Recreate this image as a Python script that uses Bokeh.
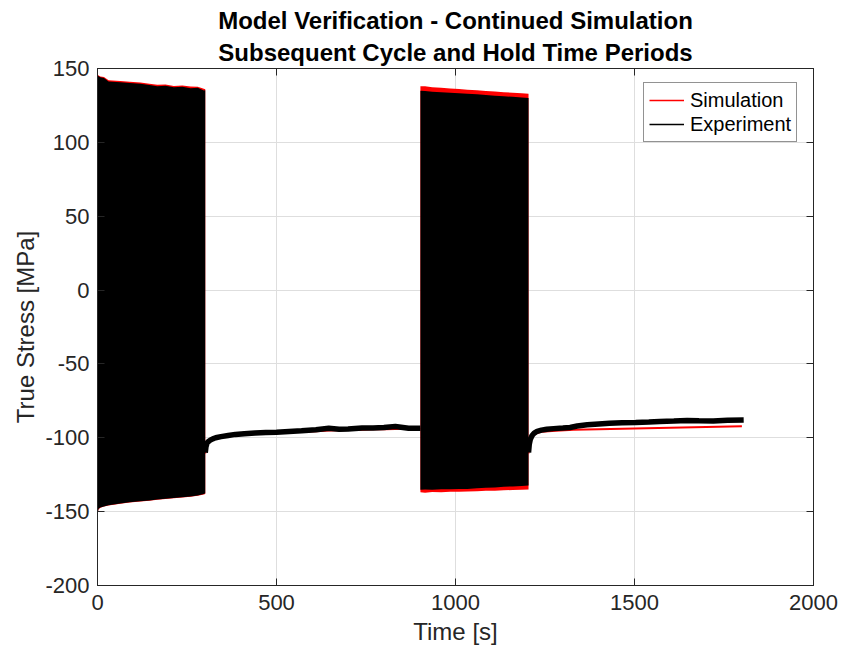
import numpy as np
from bokeh.plotting import figure
from bokeh.models import (Range1d, FixedTicker, LinearAxis, Legend, LegendItem,
                          Title, CustomJSTickFormatter, ColumnDataSource)
from bokeh.embed import file_html
from bokeh.resources import INLINE

# ---------------- data ----------------
x_ticks = [0, 500, 1000, 1500, 2000]
y_ticks = [-200, -150, -100, -50, 0, 50, 100, 150]

# Cycling block 1 envelopes (0-300 s)
blk1_t = [0, 3, 8, 18, 31, 64, 90, 120, 145, 167, 190, 213, 237, 260, 280, 297, 301]
blk1_exp_hi = [145.5, 144.8, 144.0, 143.5, 141.2, 140.7, 140.2, 139.6, 138.9, 138.0,
               138.3, 137.3, 137.6, 136.7, 136.9, 135.1, 135.3]
blk1_exp_lo = [-151.5, -148.1, -147.2, -146.5, -145.6, -144.5, -143.6, -143.0, -142.4,
               -141.8, -141.3, -140.7, -140.3, -139.8, -139.1, -138.0, -137.5]
blk1_sim_hi = [146.0, 145.3, 144.6, 144.2, 142.0, 141.5, 141.0, 140.5, 139.7, 139.0,
               139.2, 138.2, 138.5, 137.8, 137.7, 136.3, 136.0]
blk1_sim_lo = [-151.6, -148.3, -147.4, -146.6, -145.8, -144.7, -143.8, -143.2, -142.6,
               -142.0, -141.5, -140.9, -140.5, -140.0, -139.3, -138.4, -138.0]

# Cycling block 2 envelopes (900-1200 s)
blk2_t = [902, 915, 935, 960, 985, 1010, 1033, 1060, 1085, 1110, 1135, 1160, 1185, 1204]
blk2_exp_hi = [135.0, 134.7, 134.3, 134.0, 133.6, 133.3, 132.9, 132.5, 132.0, 131.6,
               131.2, 130.8, 130.4, 130.1]
blk2_exp_lo = [-135.2, -135.0, -135.1, -134.9, -134.8, -134.7, -134.6, -134.2, -133.9,
               -133.6, -133.2, -132.9, -132.6, -132.3]
blk2_sim_hi = [137.9, 138.0, 137.3, 137.0, 136.4, 136.1, 135.6, 135.2, 134.8, 134.4,
               133.9, 133.6, 133.2, 132.9]
blk2_sim_lo = [-136.8, -137.2, -136.7, -136.9, -136.5, -136.6, -136.3, -136.2, -135.9,
               -135.8, -135.5, -135.4, -135.2, -135.0]

# Hold period 1 (300-900 s)
h1_t = [301, 303, 306, 310, 315, 322, 330, 345, 365, 385, 410, 440, 470, 500, 535, 570,
        610, 646, 675, 700, 739, 770, 800, 832, 869, 902]
h1_exp = [-110, -106, -103.5, -102.5, -101.6, -100.7, -100, -99.2, -98.4, -97.7, -97.2,
          -96.8, -96.5, -96.2, -95.7, -95.2, -94.5, -93.6, -94.2, -94.0, -93.3, -93.4,
          -93.0, -92.4, -93.5, -93.5]
h1_sim = [-110.5, -106.5, -104.1, -103.0, -102.1, -101.2, -100.5, -99.7, -98.9, -98.2,
          -97.7, -97.3, -97.0, -96.7, -96.3, -95.9, -95.5, -95.1, -94.9, -94.7, -94.5,
          -94.3, -94.2, -94.0, -93.9, -93.8]

# Hold period 2 (1200-1800 s)
h2_t = [1204, 1206, 1209, 1214, 1220, 1228, 1240, 1255, 1274, 1300, 1320, 1340, 1368,
        1400, 1430, 1465, 1503, 1540, 1570, 1610, 1647, 1680, 1720, 1760, 1805]
h2_exp = [-110, -104.5, -101, -98.5, -96.8, -95.6, -94.8, -94.2, -93.8, -93.4, -93.0,
          -92.0, -91.2, -90.6, -90.2, -89.9, -89.6, -89.3, -89.0, -88.7, -88.3, -88.5,
          -88.6, -88.1, -87.9]
h2_sim_t = [1204, 1206, 1209, 1214, 1220, 1228, 1240, 1260, 1280, 1305, 1330, 1400, 1500,
            1600, 1700, 1800]
h2_sim = [-110.5, -105.5, -102, -99.5, -97.8, -96.8, -96.0, -95.5, -95.2, -94.9, -94.6,
          -94.2, -93.7, -93.2, -92.7, -92.2]

# ---------------- styling ----------------
FONT = "Liberation Sans"
AX = "#262626"
GRID = "#dedede"
RED = "#ff0000"
BLACK = "#000000"

p = figure(width=841, height=654, output_backend="svg", toolbar_location=None,
           x_range=Range1d(0, 2000), y_range=Range1d(-200, 150),
           min_border_left=97, min_border_right=28, min_border_top=68,
           min_border_bottom=69, background_fill_color="white",
           border_fill_color="white")
p.outline_line_color = AX
p.outline_line_width = 1

bottom_ax = p.below[0]
left_ax = p.left[0]

plain = CustomJSTickFormatter(code="return String(tick)")
blank = CustomJSTickFormatter(code="return ''")

for ax in (bottom_ax, left_ax):
    ax.axis_line_color = AX
    ax.major_tick_line_color = AX
    ax.major_tick_in = 7
    ax.major_tick_out = 0
    ax.minor_tick_line_color = None
    ax.major_label_text_font = FONT
    ax.major_label_text_font_size = "22px"
    ax.major_label_text_color = AX
    ax.axis_label_text_font = FONT
    ax.axis_label_text_font_size = "24px"
    ax.axis_label_text_font_style = "normal"
    ax.axis_label_text_color = AX
    ax.formatter = plain

bottom_ax.ticker = FixedTicker(ticks=x_ticks)
left_ax.ticker = FixedTicker(ticks=y_ticks)
bottom_ax.axis_label = "Time [s]"
left_ax.axis_label = "True Stress [MPa]"
bottom_ax.major_label_standoff = 9
left_ax.major_label_standoff = 8
bottom_ax.axis_label_standoff = 5
left_ax.axis_label_standoff = 3

# box ticks on top and right (added before the titles so they hug the frame)
top_ax = LinearAxis(ticker=FixedTicker(ticks=x_ticks), formatter=blank,
                    major_tick_in=7, major_tick_out=0, minor_tick_line_color=None,
                    axis_line_color=AX, major_tick_line_color=AX,
                    major_label_standoff=0)
right_ax = LinearAxis(ticker=FixedTicker(ticks=y_ticks), formatter=blank,
                      major_tick_in=7, major_tick_out=0, minor_tick_line_color=None,
                      axis_line_color=AX, major_tick_line_color=AX,
                      major_label_standoff=0)
p.add_layout(top_ax, "above")
p.add_layout(right_ax, "right")

# titles (line 2 added first so it sits next to the frame)
p.add_layout(Title(text="Subsequent Cycle and Hold Time Periods", align="center",
                   text_font=FONT, text_font_size="24px", text_font_style="bold",
                   text_color="#000000", standoff=5), "above")
p.add_layout(Title(text="Model Verification - Continued Simulation", align="center",
                   text_font=FONT, text_font_size="24px", text_font_style="bold",
                   text_color="#000000", standoff=2), "above")

p.xgrid.ticker = FixedTicker(ticks=x_ticks)
p.ygrid.ticker = FixedTicker(ticks=y_ticks)
p.xgrid.grid_line_color = GRID
p.ygrid.grid_line_color = GRID

# ---------------- data glyphs ----------------
# simulation (red) underneath
p.varea(x=blk1_t, y1=blk1_sim_lo, y2=blk1_sim_hi, fill_color=RED)
p.varea(x=blk2_t, y1=blk2_sim_lo, y2=blk2_sim_hi, fill_color=RED)
p.line(h1_t, h1_sim, line_color=RED, line_width=2)
p.line(h2_sim_t, h2_sim, line_color=RED, line_width=2)

# experiment (black) on top
p.varea(x=blk1_t, y1=blk1_exp_lo, y2=blk1_exp_hi, fill_color=BLACK)
p.varea(x=blk2_t, y1=blk2_exp_lo, y2=blk2_exp_hi, fill_color=BLACK)
p.line(h1_t, h1_exp, line_color=BLACK, line_width=5.5)
p.line(h2_t, h2_exp, line_color=BLACK, line_width=5.5)

# legend keys (thin lines as in the reference); NaN points draw nothing in the plot
key_src = ColumnDataSource(data=dict(x=[np.nan, np.nan], y=[np.nan, np.nan]))
leg_sim = p.line("x", "y", source=key_src, line_color=RED, line_width=1.3)
leg_exp = p.line("x", "y", source=key_src, line_color=BLACK, line_width=1.3)

legend = Legend(items=[LegendItem(label="Simulation", renderers=[leg_sim]),
                       LegendItem(label="Experiment", renderers=[leg_exp])],
                location=(546, 443), label_text_font=FONT,
                label_text_font_size="20px", label_text_color="#000000",
                label_height=24, glyph_width=35, glyph_height=24,
                label_standoff=6, padding=5, spacing=0, margin=0,
                border_line_color=AX, border_line_width=1,
                background_fill_color="white", background_fill_alpha=1)
p.add_layout(legend, "center")

open("out.html", "w").write(file_html(p, INLINE))
